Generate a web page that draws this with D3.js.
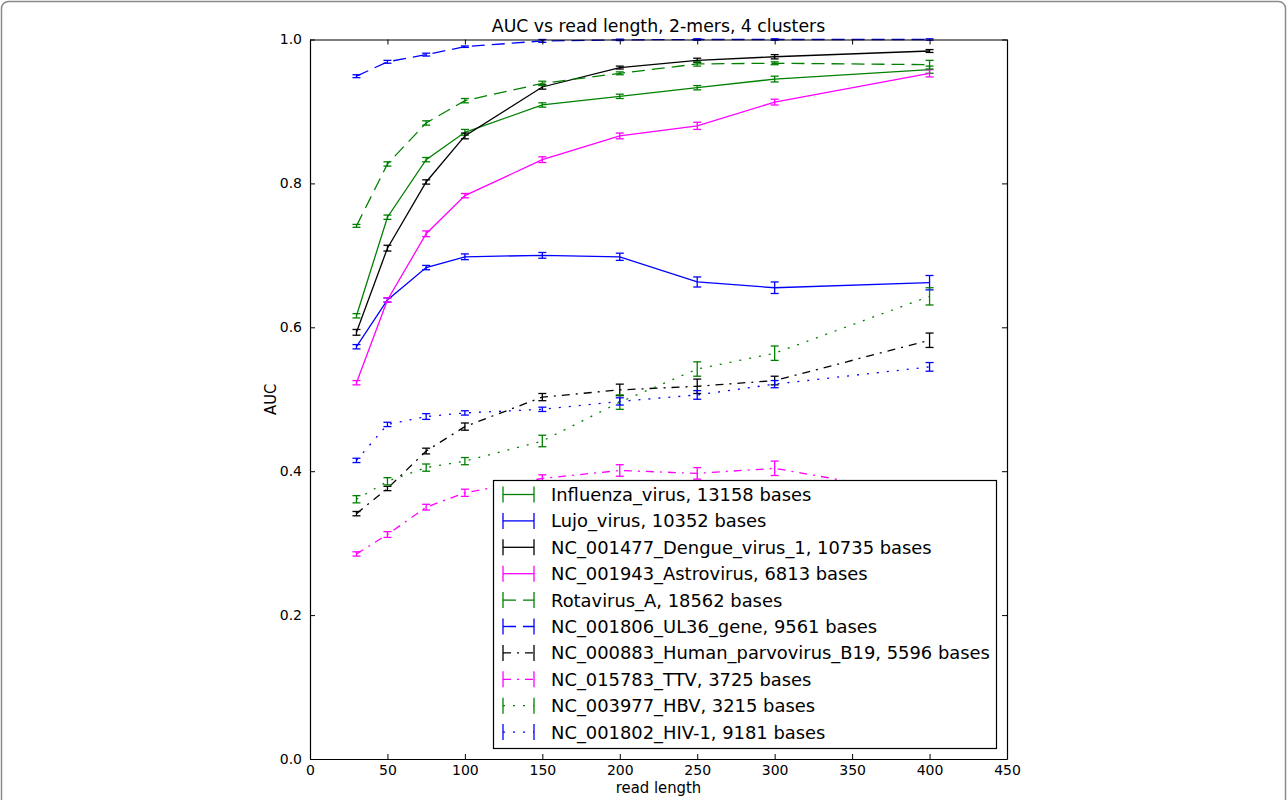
<!DOCTYPE html>
<html>
<head>
<meta charset="utf-8">
<script src="https://cdn.jsdelivr.net/npm/d3@7"></script>
<style>
  body { margin: 0; background: #fff; }
  text { font-family: "DejaVu Sans", sans-serif; }
</style>
</head>
<body>
<div id="body"></div>
<script>
var readLengths = [30, 50, 75, 100, 150, 200, 250, 300, 400];

var seriesNames = ["Influenza_virus, 13158 bases", "Lujo_virus, 10352 bases", "NC_001477_Dengue_virus_1, 10735 bases",
  "NC_001943_Astrovirus, 6813 bases", "Rotavirus_A, 18562 bases", "NC_001806_UL36_gene, 9561 bases",
  "NC_000883_Human_parvovirus_B19, 5596 bases", "NC_015783_TTV, 3725 bases", "NC_003977_HBV, 3215 bases",
  "NC_001802_HIV-1, 9181 bases"];
var seriesColors = ["#008000", "#0000ff", "#000000", "#ff00ff", "#008000", "#0000ff", "#000000", "#ff00ff", "#008000", "#0000ff"];
var seriesStyles = ["solid", "solid", "solid", "solid", "dashed", "dashed", "dashdot", "dashdot", "dotted", "dotted"];

var influenza = [0.616, 0.753, 0.833, 0.871, 0.909, 0.921, 0.933, 0.945, 0.958];
var lujo = [0.573, 0.638, 0.683, 0.698, 0.700, 0.698, 0.663, 0.655, 0.662];
var dengue = [0.593, 0.710, 0.802, 0.866, 0.934, 0.961, 0.971, 0.976, 0.984];
var astro = [0.523, 0.638, 0.730, 0.783, 0.833, 0.866, 0.880, 0.913, 0.953];
var rota = [0.741, 0.827, 0.884, 0.915, 0.939, 0.953, 0.966, 0.967, 0.965];
var ul36 = [0.949, 0.969, 0.979, 0.990, 0.998, 0.9995, 1.0, 1.0, 1.0];
var parvo = [0.341, 0.376, 0.428, 0.462, 0.503, 0.513, 0.518, 0.526, 0.582];
var ttv = [0.285, 0.312, 0.350, 0.370, 0.390, 0.401, 0.397, 0.404, 0.366];
var hbv = [0.361, 0.386, 0.405, 0.414, 0.442, 0.496, 0.542, 0.564, 0.643];
var hiv = [0.415, 0.465, 0.476, 0.481, 0.486, 0.497, 0.506, 0.521, 0.545];

var influenzaErr = [0.003, 0.003, 0.003, 0.004, 0.003, 0.003, 0.003, 0.004, 0.005];
var lujoErr = [0.003, 0.003, 0.003, 0.004, 0.004, 0.005, 0.007, 0.008, 0.010];
var dengueErr = [0.004, 0.004, 0.003, 0.004, 0.003, 0.002, 0.003, 0.003, 0.002];
var astroErr = [0.003, 0.003, 0.004, 0.003, 0.004, 0.004, 0.005, 0.004, 0.005];
var rotaErr = [0.002, 0.003, 0.003, 0.003, 0.003, 0.002, 0.003, 0.002, 0.006];
var ul36Err = [0.002, 0.002, 0.002, 0.001, 0.002, 0.001, 0.001, 0.001, 0.001];
var parvoErr = [0.003, 0.003, 0.004, 0.005, 0.005, 0.008, 0.010, 0.006, 0.010];
var ttvErr = [0.003, 0.004, 0.004, 0.005, 0.005, 0.008, 0.008, 0.010, 0.008];
var hbvErr = [0.005, 0.005, 0.005, 0.005, 0.008, 0.010, 0.010, 0.010, 0.012];
var hivErr = [0.003, 0.003, 0.004, 0.003, 0.003, 0.005, 0.006, 0.005, 0.006];

var xTicks = [0, 50, 100, 150, 200, 250, 300, 350, 400, 450];
var yTicks = [0.0, 0.2, 0.4, 0.6, 0.8, 1.0];

var values = [influenza, lujo, dengue, astro, rota, ul36, parvo, ttv, hbv, hiv];
var errors = [influenzaErr, lujoErr, dengueErr, astroErr, rotaErr, ul36Err, parvoErr, ttvErr, hbvErr, hivErr];

var dashes = { solid: null, dashed: "13,7", dashdot: "8,6,2,6", dotted: "2,8" };

var series = seriesNames.map(function(name, i) {
  return {
    name: name,
    color: seriesColors[i],
    style: seriesStyles[i],
    points: readLengths.map(function(r, j) { return { x: r, y: values[i][j], e: errors[i][j] }; })
  };
});

var width = 1287, height = 800;
var margin = { top: 39.5, right: 280, bottom: 41, left: 310 };

var svg = d3.select("#body")
  .append("svg")
  .attr("width", width)
  .attr("height", height);

// outer frame
svg.append("rect")
  .attr("x", 1.5)
  .attr("y", 1.5)
  .attr("width", width - 3)
  .attr("height", height + 20)
  .attr("rx", 7)
  .attr("fill", "none")
  .attr("stroke", "#8a8a8a")
  .attr("stroke-width", 1.5);

var x = d3.scaleLinear()
  .domain([0, 450])
  .range([margin.left, width - margin.right]);

var y = d3.scaleLinear()
  .domain([0, 1])
  .range([height - margin.bottom, margin.top]);

var line = d3.line()
  .x(function(d) { return x(d.x); })
  .y(function(d) { return y(d.y); });

var plot = svg.append("g");

series.forEach(function(s) {
  var g = plot.append("g");

  g.append("path")
    .datum(s.points)
    .attr("fill", "none")
    .attr("stroke", s.color)
    .attr("stroke-width", 1.3)
    .attr("stroke-dasharray", dashes[s.style])
    .attr("d", line);

  var bars = g.selectAll(".err")
    .data(s.points)
    .enter().append("g")
    .attr("stroke", s.color)
    .attr("stroke-width", 1.3);

  bars.append("line")
    .attr("x1", function(d) { return x(d.x); })
    .attr("x2", function(d) { return x(d.x); })
    .attr("y1", function(d) { return y(d.y - d.e); })
    .attr("y2", function(d) { return y(d.y + d.e); });

  bars.append("line")
    .attr("x1", function(d) { return x(d.x) - 4; })
    .attr("x2", function(d) { return x(d.x) + 4; })
    .attr("y1", function(d) { return y(d.y - d.e); })
    .attr("y2", function(d) { return y(d.y - d.e); });

  bars.append("line")
    .attr("x1", function(d) { return x(d.x) - 4; })
    .attr("x2", function(d) { return x(d.x) + 4; })
    .attr("y1", function(d) { return y(d.y + d.e); })
    .attr("y2", function(d) { return y(d.y + d.e); });
});

// axes, matplotlib style ticks pointing inward on all four sides
var bottomAxis = svg.append("g")
  .attr("transform", "translate(0," + y(0) + ")")
  .call(d3.axisBottom(x).tickValues(xTicks).tickSizeInner(-5).tickSizeOuter(0).tickPadding(8).tickFormat(d3.format("d")));

var topAxis = svg.append("g")
  .attr("transform", "translate(0," + y(1) + ")")
  .call(d3.axisTop(x).tickValues(xTicks).tickSizeInner(-5).tickSizeOuter(0).tickFormat(""));

var leftAxis = svg.append("g")
  .attr("transform", "translate(" + x(0) + ",0)")
  .call(d3.axisLeft(y).tickValues(yTicks).tickSizeInner(-5).tickSizeOuter(0).tickPadding(8).tickFormat(d3.format(".1f")));

var rightAxis = svg.append("g")
  .attr("transform", "translate(" + x(450) + ",0)")
  .call(d3.axisRight(y).tickValues(yTicks).tickSizeInner(-5).tickSizeOuter(0).tickFormat(""));

[bottomAxis, topAxis, leftAxis, rightAxis].forEach(function(a) {
  a.selectAll("text")
    .attr("font-family", "DejaVu Sans, sans-serif")
    .attr("font-size", 14)
    .attr("fill", "#000");
  a.select(".domain").attr("stroke", "#000").attr("stroke-width", 1.2);
  a.selectAll(".tick line").attr("stroke", "#000").attr("stroke-width", 1);
});

bottomAxis.selectAll("text").attr("dy", "0.6em");
leftAxis.selectAll("text").attr("dy", "0.32em");

svg.append("text")
  .attr("x", (x(0) + x(450)) / 2)
  .attr("y", 32)
  .attr("text-anchor", "middle")
  .attr("font-size", 17.3)
  .text("AUC vs read length, 2-mers, 4 clusters");

svg.append("text")
  .attr("x", (x(0) + x(450)) / 2)
  .attr("y", 793)
  .attr("text-anchor", "middle")
  .attr("font-size", 16.5)
  .attr("font-stretch", "condensed")
  .attr("font-family", "DejaVu Sans Condensed, DejaVu Sans, sans-serif")
  .text("read length");

svg.append("text")
  .attr("transform", "translate(276," + y(0.5) + ") rotate(-90)")
  .attr("text-anchor", "middle")
  .attr("font-size", 16.5)
  .attr("font-stretch", "condensed")
  .attr("font-family", "DejaVu Sans Condensed, DejaVu Sans, sans-serif")
  .text("AUC");

// legend
var legend = svg.append("g");

legend.append("rect")
  .attr("x", 493.5)
  .attr("y", 480.5)
  .attr("width", 503)
  .attr("height", 268)
  .attr("fill", "#fff")
  .attr("stroke", "#000")
  .attr("stroke-width", 1.2);

var item = legend.selectAll(".item")
  .data(series)
  .enter().append("g")
  .attr("transform", function(d, i) { return "translate(503," + (494.5 + i * 26.4) + ")"; });

item.append("line")
  .attr("x1", 0)
  .attr("x2", 31)
  .attr("stroke", function(d) { return d.color; })
  .attr("stroke-width", 1.3)
  .attr("stroke-dasharray", function(d) { return dashes[d.style]; });

item.append("line")
  .attr("x1", 0).attr("x2", 0)
  .attr("y1", -8).attr("y2", 8)
  .attr("stroke", function(d) { return d.color; })
  .attr("stroke-width", 1.3);

item.append("line")
  .attr("x1", 31).attr("x2", 31)
  .attr("y1", -8).attr("y2", 8)
  .attr("stroke", function(d) { return d.color; })
  .attr("stroke-width", 1.3);

item.append("text")
  .attr("x", 48)
  .attr("dy", "0.36em")
  .attr("font-size", 17.9)
  .text(function(d) { return d.name; });
</script>
</body>
</html>
